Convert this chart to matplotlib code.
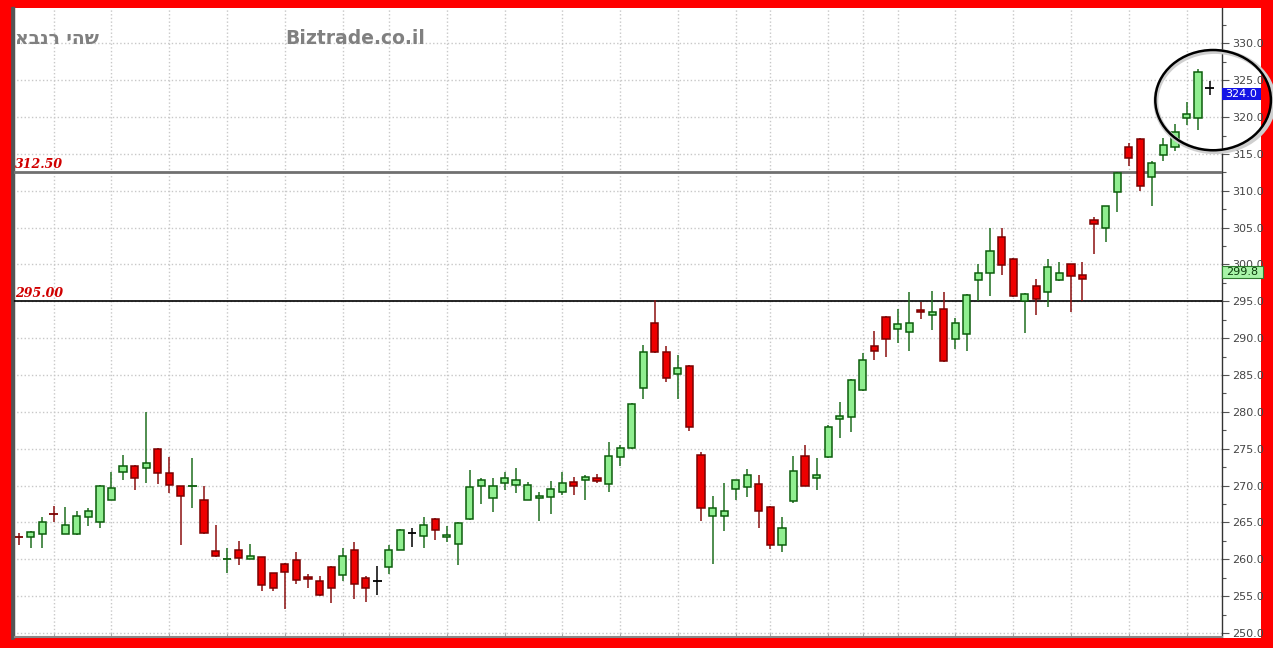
import numpy as np
import matplotlib.pyplot as plt
from matplotlib.patches import Ellipse, Rectangle
from matplotlib.ticker import MultipleLocator, FormatStrFormatter
import matplotlib.transforms as mtrans

# daily candles (open, high, low, close), oldest first
opens = [263.1, 263.0, 263.5, 266.3, 263.5, 263.4, 265.8, 265.0, 268.1, 271.9,
         272.7, 272.4, 275.0, 271.7, 270.0, 269.9, 268.1, 261.1, 260.0, 261.3,
         260.1, 260.3, 258.1, 259.4, 259.9, 257.6, 257.0, 259.0, 257.9, 261.2,
         257.4, 257.0, 259.0, 261.3, 263.6, 263.1, 265.5, 263.0, 262.1, 265.5,
         269.9, 268.3, 270.4, 270.1, 268.1, 268.3, 268.5, 269.2, 270.5, 270.7,
         271.0, 270.2, 273.9, 275.1, 283.2, 292.1, 288.1, 285.1, 286.2, 274.1,
         265.9, 265.9, 269.5, 269.8, 270.2, 267.1, 261.9, 267.9, 274.0, 271.0,
         273.9, 279.0, 279.3, 283.0, 289.0, 292.9, 291.3, 290.9, 293.8, 293.1,
         294.0, 289.9, 290.6, 297.9, 298.8, 303.7, 300.8, 295.0, 297.1, 296.3,
         297.9, 300.0, 298.6, 306.0, 305.0, 309.8, 316.0, 317.0, 311.9, 314.9,
         315.9, 319.9, 319.9, 324.0]
highs = [263.6, 263.8, 265.8, 267.3, 267.1, 266.5, 267.0, 270.1, 271.9, 274.2,
         272.8, 280.0, 275.1, 273.9, 270.0, 273.8, 270.0, 264.7, 261.5, 262.5,
         262.1, 260.3, 258.2, 259.5, 261.0, 258.0, 257.8, 259.1, 261.6, 262.4,
         257.7, 259.1, 262.0, 264.1, 264.2, 265.8, 265.6, 264.5, 265.0, 272.1,
         271.0, 271.0, 271.8, 272.4, 270.5, 269.2, 270.6, 271.9, 271.1, 271.4,
         271.6, 275.9, 275.5, 281.2, 289.1, 295.2, 289.0, 287.7, 286.3, 274.5,
         268.6, 270.3, 270.8, 272.2, 271.5, 267.2, 265.7, 274.0, 275.5, 273.8,
         278.2, 281.4, 284.4, 288.0, 291.0, 293.0, 294.0, 296.2, 294.9, 296.4,
         296.2, 292.8, 296.0, 300.0, 304.9, 304.9, 300.9, 296.1, 298.0, 300.7,
         300.4, 300.1, 300.4, 306.5, 308.0, 312.5, 316.5, 317.1, 314.1, 317.1,
         319.1, 322.1, 326.5, 324.9]
lows = [262.0, 261.6, 261.6, 265.0, 263.4, 263.3, 264.5, 264.3, 268.0, 270.8,
        269.4, 270.4, 270.2, 269.0, 262.0, 267.0, 263.5, 260.3, 258.1, 259.2,
        260.0, 255.7, 255.7, 253.2, 256.7, 256.1, 255.0, 254.1, 257.1, 254.6,
        254.2, 255.1, 258.0, 261.2, 261.7, 261.6, 262.6, 262.4, 259.2, 265.4,
        267.5, 266.4, 269.4, 269.0, 268.0, 265.2, 266.2, 268.7, 268.7, 268.1,
        270.3, 269.2, 272.6, 275.0, 281.8, 288.0, 284.1, 281.7, 277.4, 265.2,
        259.3, 263.9, 268.0, 268.5, 264.3, 261.4, 261.0, 267.6, 269.9, 269.4,
        273.8, 276.5, 277.3, 282.9, 287.0, 287.4, 289.4, 288.3, 292.6, 291.1,
        286.8, 288.6, 288.3, 295.0, 295.7, 298.6, 295.6, 290.7, 293.2, 294.3,
        297.8, 293.6, 295.0, 301.4, 303.0, 307.1, 313.3, 310.0, 308.0, 314.1,
        315.4, 318.9, 318.2, 323.0]
closes = [263.0, 263.7, 265.0, 266.1, 264.6, 265.9, 266.5, 270.0, 269.7, 272.7,
          271.0, 273.0, 271.7, 270.1, 268.6, 270.0, 263.6, 260.4, 260.2, 260.2,
          260.4, 256.5, 256.1, 258.3, 257.2, 257.3, 255.1, 256.1, 260.4, 256.6,
          256.1, 257.0, 261.2, 264.0, 263.6, 264.7, 264.0, 263.3, 264.9, 269.8,
          270.8, 269.9, 271.0, 270.7, 270.1, 268.6, 269.5, 270.3, 270.0, 271.1,
          270.6, 274.0, 275.1, 281.1, 288.1, 288.1, 284.6, 285.9, 278.0, 267.0,
          267.0, 266.5, 270.7, 271.4, 266.6, 262.0, 264.2, 272.0, 270.0, 271.4,
          277.9, 279.4, 284.3, 287.0, 288.2, 289.9, 291.9, 292.0, 293.5, 293.6,
          286.9, 292.0, 295.9, 298.8, 301.8, 299.9, 295.7, 296.0, 295.3, 299.6,
          298.9, 298.4, 298.0, 305.5, 307.9, 312.4, 314.5, 310.7, 313.8, 316.2,
          318.0, 320.4, 326.1, 324.0]

# candles where a new week starts (vertical grid)
week_starts = [3, 8, 13, 18, 23, 28, 32, 37, 42, 47, 52, 57, 62, 65, 70, 73,
               76, 81, 86, 91, 96, 101]

levels = [312.5, 295.0]
level_labels = ['312.50', '295.00']
last_price = 324.0
other_price = 299.8

W, H = 1273, 648
fig = plt.figure(figsize=(W / 100, H / 100), dpi=100, facecolor='#ff0000')
fig.patches.append(Rectangle((13 / W, 10 / H), (1261 - 13) / W, 630 / H,
                             transform=fig.transFigure, facecolor='white',
                             edgecolor='none', zorder=-5))
ax = fig.add_axes([13 / W, 11.3 / H, (1222 - 13) / W, 628.7 / H])
ax.set_facecolor('white')

x = np.arange(len(opens))
o = np.array(opens)
c = np.array(closes)
hi = np.array(highs)
lo = np.array(lows)

up = c > o
down = c < o
wick_col = np.where(up, '#1f6f1f', np.where(down, '#8b1010', '#000000'))
ax.vlines(x, lo, hi, colors=wick_col, lw=1.1, zorder=4)

body = np.abs(c - o)
doji = body < 0.25
edge_col = np.where(up, '#0b5d0b', np.where(down, '#7a0000', '#000000'))
face_col = np.where(up, '#90ee90', '#ee0000')
ax.bar(x[~doji], body[~doji], bottom=np.minimum(o, c)[~doji], width=0.62,
       color=face_col[~doji], edgecolor=edge_col[~doji], lw=1.1, zorder=5)
ax.hlines((o + c)[doji] / 2, x[doji] - 0.38, x[doji] + 0.38,
          colors=edge_col[doji], lw=1.3, zorder=5)

# support / resistance lines
ax.axhline(levels[0], color='#707070', lw=2, zorder=3)
ax.axhline(levels[1], color='black', lw=1.2, zorder=3)
for lv, lab in zip(levels, level_labels):
    ax.text(0.002, lv + 0.65, lab, transform=ax.get_yaxis_transform(),
            color='#d00000', fontsize=9, fontweight='bold', fontstyle='italic',
            family='DejaVu Serif', va='baseline', ha='left', zorder=6)

ax.set_xlim(-0.52, 104.07)
ax.set_ylim(249.5, 334.8)
ax.yaxis.tick_right()
ax.yaxis.set_major_locator(MultipleLocator(5))
ax.yaxis.set_minor_locator(MultipleLocator(2.5))
ax.yaxis.set_major_formatter(FormatStrFormatter('%.1f'))
ax.tick_params(axis='y', which='major', length=5, width=0.8, color='#555555',
               labelsize=8, labelcolor='#444444', pad=2)
ax.tick_params(axis='y', which='minor', length=3, width=0.8, color='#555555')
ax.set_xticks(week_starts)
ax.set_xticklabels([])
ax.tick_params(axis='x', length=3, direction='in', color='#aaaaaa')
ax.grid(True, which='major', color='#c8c8c8', linestyle=':', lw=1, zorder=1)
ax.set_axisbelow(True)

ax.spines['top'].set_visible(False)
ax.spines['left'].set_color('#555555')
ax.spines['left'].set_linewidth(2.5)
ax.spines['right'].set_color('#333333')
ax.spines['right'].set_linewidth(1)
ax.spines['bottom'].set_color('#888888')
ax.spines['bottom'].set_linewidth(1.5)

# price tags on the right axis
tr = mtrans.blended_transform_factory(ax.transAxes, ax.transData)
box_w = 39 / 1209
box_h = 12 / 7.37
ax.add_patch(Rectangle((1.0, last_price - box_h), box_w, box_h, transform=tr,
                       facecolor='#1414e6', edgecolor='none', clip_on=False, zorder=7))
ax.text(1.0 + box_w / 2, last_price - box_h / 2, f'{last_price:.1f}', transform=tr,
        color='white', fontsize=8, ha='center', va='center', zorder=8)
ax.add_patch(Rectangle((1.0, other_price - box_h), box_w * 1.05, box_h, transform=tr,
                       facecolor='#a8f5a8', edgecolor='#2e7d2e', lw=0.8,
                       clip_on=False, zorder=7))
ax.text(1.0 + box_w * 1.05 / 2, other_price - box_h / 2, f'{other_price:.1f}',
        transform=tr, color='#0a3a0a', fontsize=8, ha='center', va='center', zorder=8)

# circle around the last days
ax.add_patch(Ellipse((103.45, 322.1), 10.2, 13.6, facecolor='none',
                     edgecolor='#cfcfcf', lw=3.5, clip_on=False, zorder=8))
ax.add_patch(Ellipse((103.3, 322.3), 10.0, 13.6, facecolor='none',
                     edgecolor='black', lw=1.8, clip_on=False, zorder=9))

# watermark texts
fig.text(15 / W, 1 - 44 / H, 'אבנר יהש', color='#808080', fontsize=13.5,
         fontweight='bold', va='baseline', ha='left')
fig.text(285 / W, 1 - 43.5 / H, 'Biztrade.co.il', color='#808080', fontsize=13.5,
         fontweight='bold', va='baseline', ha='left')

# dark rule on the left edge of the panel
fig.add_artist(plt.Line2D([11.5 / W, 11.5 / W], [10 / H, 640 / H],
                          transform=fig.transFigure, color='#555555', lw=2))

fig.savefig('out.png', dpi=100, facecolor=fig.get_facecolor())
